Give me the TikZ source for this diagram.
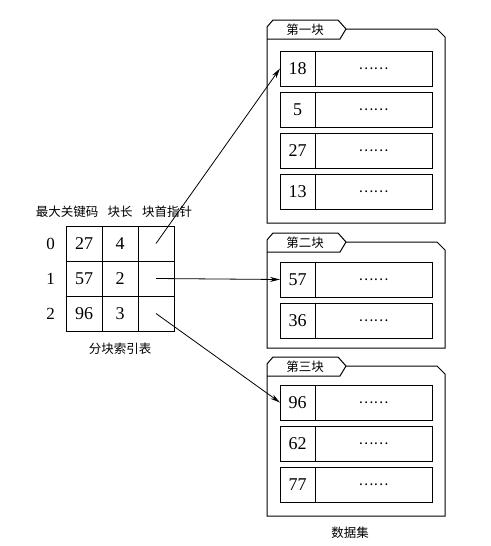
\documentclass[tikz,border=0pt]{standalone}
\usepackage{fontspec}
\setmainfont{Liberation Serif}
\newfontfamily\cjk{Noto Sans CJK SC}
\usetikzlibrary{arrows.meta,positioning}
\tikzset{
  cell/.style={draw, line width=1pt, outer sep=0pt, inner sep=0pt,
               minimum width=36pt, minimum height=35pt, font=\fontsize{18}{18}\selectfont},
  keyc/.style={cell, minimum width=35pt},
  valc/.style={cell, minimum width=117pt, font=\cjk\fontsize{14}{14}\selectfont},
  blkline/.style={line width=1pt, line join=miter},
  lbl/.style={font=\cjk\fontsize{12.5}{13}\selectfont, inner sep=1pt},
  num/.style={font=\fontsize{17}{17}\selectfont, inner sep=0pt},
  ptr/.style={-{Stealth[length=10pt,width=5pt]}, line width=0.8pt},
}
\begin{document}
\begin{tikzpicture}[x=1pt,y=-1pt]
  \useasboundingbox (0,0) rectangle (490,546);
  % index table
  \foreach \r/\key/\len in {0/27/4,1/57/2,2/96/3}{
    \node[cell, anchor=north west] (m\r) at (66,{226+35*\r}) {\key};
    \node[cell, right=0pt of m\r] (l\r) {\len};
    \node[cell, right=0pt of l\r] (p\r) {};
    \node[num, left=11pt of m\r] (n\r) {\r};
  }
  \node[lbl] (h1) at (67,212) {最大关键码};
  \node[lbl] (h2) at (120,212) {块长};
  \node[lbl] (h3) at (167,212) {块首指针};
  \node[lbl, below=11pt of l2] (tname) {分块索引表};
  % blocks
  \foreach \T/\B/\lab in {20/223/第一块,233/348/第二块,357/516/第三块}{
    \draw[blkline] (267,\B) -- (267,\T+7) -- (273,\T) -- (338,\T) -- (346,\T+9)
      -- (437,\T+9) -- (445,\T+17) -- (445,\B) -- cycle;
    \draw[blkline] (267,\T+19) -- (340,\T+19) -- (346,\T+9);
    \node[lbl] at (305,\T+10) {\lab};
  }
  % records
  \foreach \k/\t in {18/51,5/92,27/133,13/174,57/262,36/303,96/385,62/426,77/467}{
    \node[keyc, anchor=north west] (k\k) at (280,\t) {\k};
    \node[valc, right=0pt of k\k] (v\k) {……};
  }
  \node[lbl] (dset) at (350,533) {数据集};
  % pointers
  \draw[ptr] (p0.center) -- (k18.west);
  \draw[ptr] (p1.center) -- (k57.west);
  \draw[ptr] (p2.center) -- (k96.west);
\end{tikzpicture}
\end{document}
